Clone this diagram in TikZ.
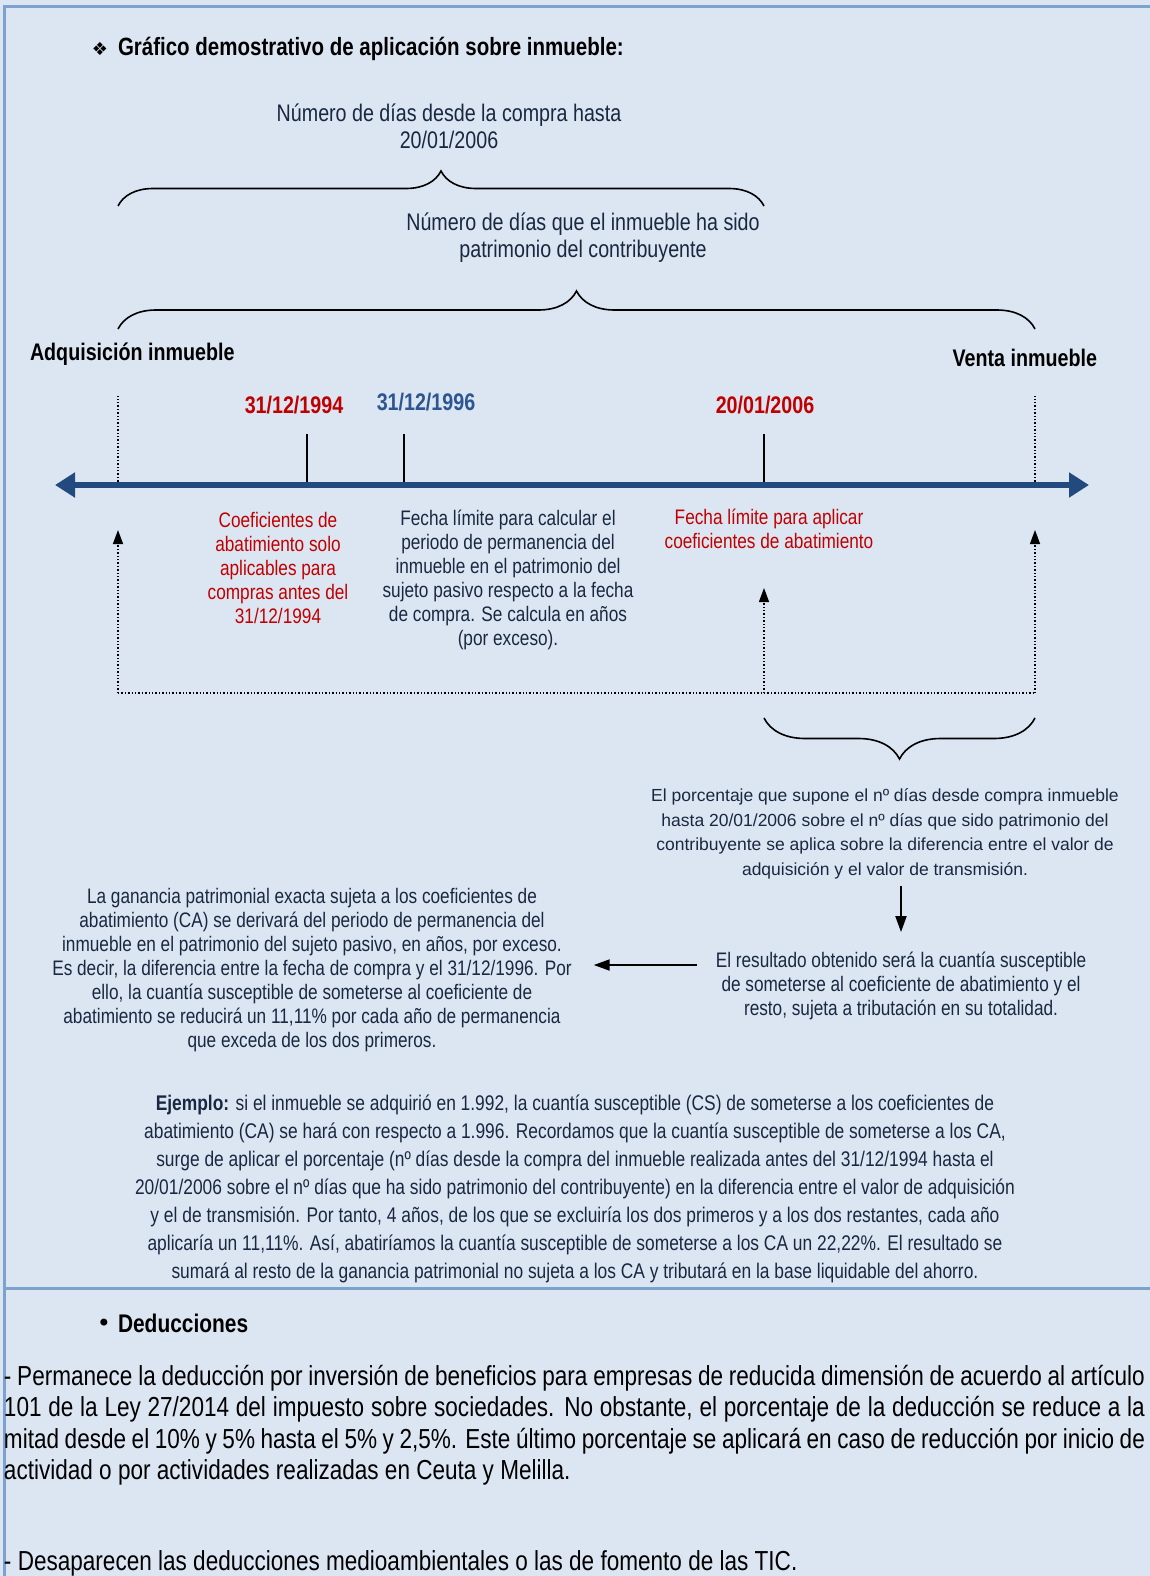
\documentclass[tikz,border=0pt]{standalone}
\usepackage{fontspec}
\setmainfont[FakeStretch=0.82]{Liberation Sans}
\newfontfamily\widefont{Liberation Sans}
\newfontfamily\symfont{DejaVu Sans}
\usepackage{xcolor}
\usepackage{tikz}
\usetikzlibrary{arrows.meta,positioning,decorations.pathreplacing,calc}
\definecolor{framebg}{RGB}{220,230,242}
\definecolor{frameline}{RGB}{124,162,208}
\definecolor{lineblue}{RGB}{35,74,126}
\definecolor{dateblue}{RGB}{45,85,145}
\definecolor{datered}{RGB}{192,0,0}
\definecolor{inktext}{RGB}{25,40,65}

\begin{document}
\begin{tikzpicture}[x=1pt,y=1pt,
    every node/.style={inner sep=0pt,outer sep=0pt,text=inktext},
    note/.style={align=center,font=\fontsize{21}{24}\selectfont},
    rednote/.style={note,text=datered},
    toplbl/.style={align=center,font=\fontsize{24}{27}\selectfont},
    datelbl/.style={font=\fontsize{24}{28}\selectfont\bfseries},
    endlbl/.style={font=\fontsize{24}{28}\selectfont\bfseries,text=black},
    bracket/.style={decorate,decoration={brace,amplitude=#1},line width=1.6pt},
    guide/.style={dotted,line width=1.4pt},
    guidearrow/.style={guide,-{Triangle[length=14pt,width=10pt]}},
    tickline/.style={line width=1.4pt},
    flowarrow/.style={line width=2pt,-{Triangle[length=16pt,width=11pt]}}]
  \useasboundingbox (0,0) rectangle (1150,-1576);
  \fill[framebg] (0,0) rectangle (1150,-1576);
  \draw[frameline,line width=3pt] (3,-6.5) -- (1150,-6.5);
  \draw[frameline,line width=3pt] (4.5,-5) -- (4.5,-1576);
  \draw[frameline,line width=3pt] (3,-1288) -- (1150,-1288);

  % title
  \node[font=\symfont\fontsize{18}{18}\selectfont,text=black] (titlemark) at (100,-49) {❖};
  \node[anchor=west,font=\fontsize{25}{28}\selectfont\bfseries,text=black] (title) at (118,-49)
       {Gráfico demostrativo de aplicación sobre inmueble:};

  % braces over the period
  \node[toplbl] (lblcompra) at (449,-126) {Número de días desde la compra hasta\\20/01/2006};
  \draw[bracket=35] (118,-206) -- (764,-206);
  \node[toplbl] (lbldias) at (583,-238) {Número de días que el inmueble ha sido\\patrimonio del contribuyente};
  \draw[bracket=38] (118,-329) -- (1035,-329);

  \node[endlbl,anchor=west] (adq) at (30,-354) {Adquisición inmueble};
  \node[endlbl,anchor=east] (venta) at (1097,-358) {Venta inmueble};

  % timeline
  \coordinate (tlL) at (55,-485);
  \coordinate (tlR) at (1089,-485);
  \coordinate (t94) at (307,-485);
  \coordinate (t96) at (404,-485);
  \coordinate (t06) at (764,-485);
  \coordinate (acq) at (118,-485);
  \coordinate (sale) at (1035,-485);
  \draw[tickline] (t94) -- ++(0,51) coordinate (t94top);
  \draw[tickline] (t96) -- ++(0,51) coordinate (t96top);
  \draw[tickline] (t06) -- ++(0,51) coordinate (t06top);
  \draw[guide] (acq) -- ++(0,89) coordinate (acqtop);
  \draw[guide] (sale) -- ++(0,89) coordinate (saletop);
  \draw[line width=6pt,lineblue,{Triangle[length=20pt,width=24pt]}-{Triangle[length=20pt,width=24pt]}] (tlL) -- (tlR);

  \node[datelbl,text=datered] (d94) at (294,-405) {31/12/1994};
  \node[datelbl,text=dateblue] (d96) at (426,-402) {31/12/1996};
  \node[datelbl,text=datered] (d06) at (765,-405) {20/01/2006};

  \node[rednote] (note94) at (278,-568) {Coeficientes de\\abatimiento solo\\aplicables para\\compras antes del\\31/12/1994};
  \node[note] (note96) at (508,-580) {Fecha límite para calcular el\\periodo de permanencia del\\inmueble en el patrimonio del\\sujeto pasivo respecto a la fecha\\de compra. Se calcula en años\\(por exceso).};
  \node[rednote] (note06) at (769,-529) {Fecha límite para aplicar\\coeficientes de abatimiento};

  % dotted loop back to the line
  \coordinate (loopL) at (118,-693);
  \coordinate (loopM) at (764,-693);
  \coordinate (loopR) at (1035,-693);
  \draw[guide] (loopL) -- (loopR);
  \draw[guidearrow] (loopL) -- (118,-530);
  \draw[guidearrow] (loopM) -- (764,-588);
  \draw[guidearrow] (loopR) -- (1035,-530);

  \draw[bracket=41] (1035,-718) -- (764,-718);

  \node[align=center,font=\widefont\fontsize{17.5}{24.5}\selectfont] (share) at (885,-834)
       {El porcentaje que supone el nº días desde compra inmueble\\hasta 20/01/2006 sobre el nº días que sido patrimonio del\\contribuyente se aplica sobre la diferencia entre el valor de\\adquisición y el valor de transmisión.};
  \node[note] (result) at (901,-986) {El resultado obtenido será la cuantía susceptible\\de someterse al coeficiente de abatimiento y el\\resto, sujeta a tributación en su totalidad.};
  \node[note] (gain) at (312,-970) {La ganancia patrimonial exacta sujeta a los coeficientes de\\abatimiento (CA) se derivará del periodo de permanencia del\\inmueble en el patrimonio del sujeto pasivo, en años, por exceso.\\Es decir, la diferencia entre la fecha de compra y el 31/12/1996. Por\\ello, la cuantía susceptible de someterse al coeficiente de\\abatimiento se reducirá un 11,11\% por cada año de permanencia\\que exceda de los dos primeros.};
  \draw[flowarrow] ([yshift=-7pt]share.south -| result.north) -- ([yshift=20pt]result.north);
  \draw[flowarrow] ([xshift=-19pt,yshift=21pt]result.west) -- ([xshift=22pt,yshift=21pt]result.west -| gain.east);

  \node[align=center,font=\fontsize{21.2}{28}\selectfont] (example) at (575,-1189)
       {\textbf{Ejemplo:} si el inmueble se adquirió en 1.992, la cuantía susceptible (CS) de someterse a los coeficientes de\\abatimiento (CA) se hará con respecto a 1.996. Recordamos que la cuantía susceptible de someterse a los CA,\\surge de aplicar el porcentaje (nº días desde la compra del inmueble realizada antes del 31/12/1994 hasta el\\20/01/2006 sobre el nº días que ha sido patrimonio del contribuyente) en la diferencia entre el valor de adquisición\\y el de transmisión. Por tanto, 4 años, de los que se excluiría los dos primeros y a los dos restantes, cada año\\aplicaría un 11,11\%. Así, abatiríamos la cuantía susceptible de someterse a los CA un 22,22\%. El resultado se\\sumará al resto de la ganancia patrimonial no sujeta a los CA y tributará en la base liquidable del ahorro.};

  % deducciones
  \node[font=\symfont\fontsize{24}{24}\selectfont,text=black] (dedmark) at (104,-1325) {•};
  \node[anchor=west,font=\fontsize{25.5}{28}\selectfont\bfseries,text=black] (dedtitle) at (118,-1323) {Deducciones};
  \node[anchor=north west,text width=1141pt,align=justify,font=\fontsize{27.5}{31.5}\selectfont,text=black] (ded1) at (4,-1365)
       {- Permanece la deducción por inversión de beneficios para empresas de reducida dimensión de acuerdo al artículo\linebreak 101 de la Ley 27/2014 del impuesto sobre sociedades. No obstante, el porcentaje de la deducción se reduce a la\linebreak mitad desde el 10\% y 5\% hasta el 5\% y 2,5\%. Este último porcentaje se aplicará en caso de reducción por inicio de\linebreak actividad o por actividades realizadas en Ceuta y Melilla.};
  \node[anchor=west,font=\fontsize{27.5}{31.5}\selectfont,text=black] (ded2) at (4,-1563)
       {- Desaparecen las deducciones medioambientales o las de fomento de las TIC.};
\end{tikzpicture}
\end{document}
